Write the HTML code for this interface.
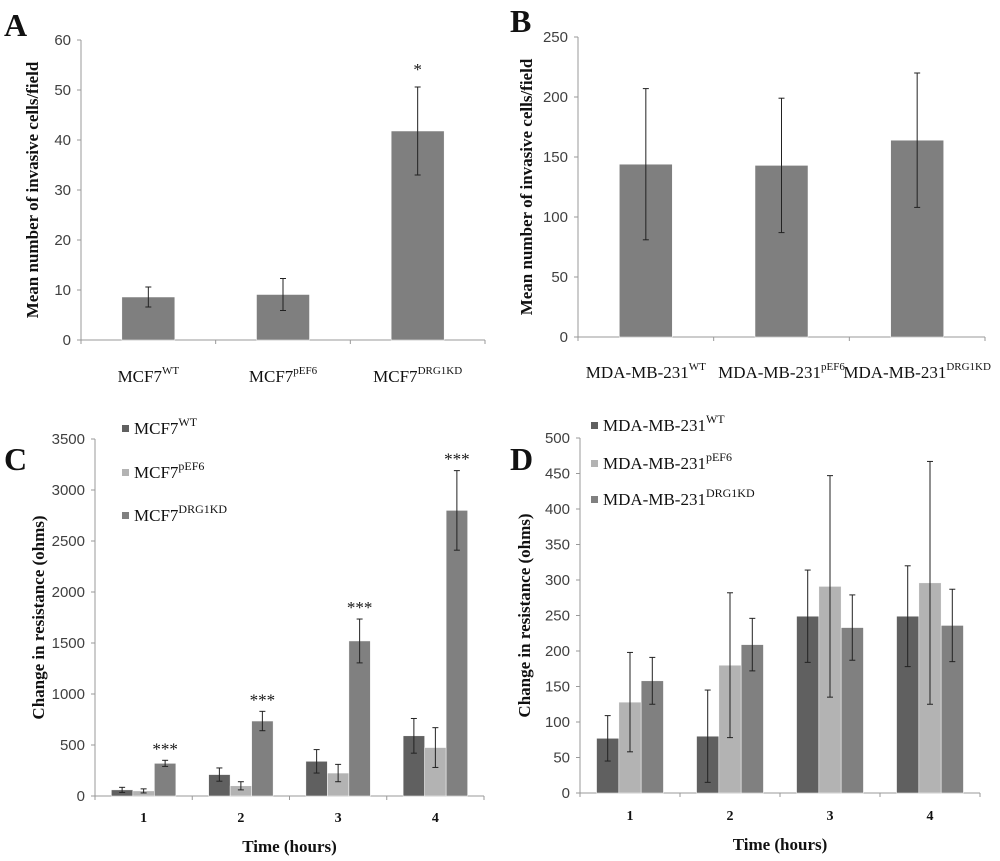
<!DOCTYPE html>
<html><head><meta charset="utf-8"><style>
body{margin:0;background:#fff;}
svg{display:block;}
.tick{font-family:"Liberation Sans",sans-serif;font-size:15px;fill:#404040;}
.cat{font-family:"Liberation Serif",serif;font-size:17px;fill:#111;}
.bold{font-family:"Liberation Serif",serif;font-weight:bold;fill:#111;}
</style></head><body>
<svg id="fig" width="1000" height="861" viewBox="0 0 1000 861" xmlns="http://www.w3.org/2000/svg"></svg>
<script>
// Panel A data
const aCats = [["MCF7","WT"],["MCF7","pEF6"],["MCF7","DRG1KD"]];
const aVals = [8.6, 9.1, 41.8];
const aErr = [2.0, 3.2, 8.8];
const aTicks = [0,10,20,30,40,50,60];
// Panel B data
const bCats = [["MDA-MB-231","WT"],["MDA-MB-231","pEF6"],["MDA-MB-231","DRG1KD"]];
const bVals = [144, 143, 164];
const bErr = [63, 56, 56];
const bTicks = [0,50,100,150,200,250];
// Panel C data
const cCats = ["1","2","3","4"];
const cWT = [60, 210, 340, 590];
const cWTErr = [25, 65, 115, 170];
const cPEF = [50, 100, 225, 475];
const cPEFErr = [20, 40, 85, 195];
const cKD = [320, 735, 1520, 2800];
const cKDErr = [30, 95, 215, 390];
const cTicks = [0,500,1000,1500,2000,2500,3000,3500];
// Panel D data
const dCats = ["1","2","3","4"];
const dWT = [77, 80, 249, 249];
const dWTErr = [32, 65, 65, 71];
const dPEF = [128, 180, 291, 296];
const dPEFErr = [70, 102, 156, 171];
const dKD = [158, 209, 233, 236];
const dKDErr = [33, 37, 46, 51];
const dTicks = [0,50,100,150,200,250,300,350,400,450,500];

const NS="http://www.w3.org/2000/svg";
const svg=document.getElementById('fig');
function el(tag,attrs,parent){const e=document.createElementNS(NS,tag);for(const k in attrs)e.setAttribute(k,attrs[k]);(parent||svg).appendChild(e);return e;}

function txt(x,y,s,cls,extra,parent){const t=el('text',Object.assign({x:x,y:y,class:cls},extra||{}),parent);t.textContent=s;return t;}

function axes(g,P){
  const y=v=>P.y0-(v/P.max)*(P.y0-P.y1);
  el('line',{x1:P.x0,y1:P.y0,x2:P.x0,y2:P.y1,stroke:'#999','stroke-width':1},g);
  el('line',{x1:P.x0,y1:P.y0,x2:P.x2,y2:P.y0,stroke:'#999','stroke-width':1},g);
  P.ticks.forEach(v=>{
    el('line',{x1:P.x0-4,y1:y(v),x2:P.x0,y2:y(v),stroke:'#999'},g);
    const t=txt(P.x0-10,y(v)+5,String(v),'tick',{'text-anchor':'end'},g);
    
    
  });
  const n=P.n, w=(P.x2-P.x0)/n;
  for(let i=0;i<=n;i++){el('line',{x1:P.x0+i*w,y1:P.y0,x2:P.x0+i*w,y2:P.y0+4,stroke:'#999'},g);}
  const yt=txt(0,0,P.ytitle,'bold',{'font-size':'17px','text-anchor':'middle',transform:`translate(${P.ytx},${(P.y0+P.y1)/2}) rotate(-90)`},g);
  
  
  return {y,w};
}
function bar(g,x,bw,yf,v,e,fill,name){
  const r=el('rect',{x:x,y:yf(v),width:bw,height:yf(0)-yf(v),fill:fill,stroke:'#fff','stroke-width':0.5},g);
  
  
  const cx=x+bw/2;
  el('line',{x1:cx,y1:yf(v+e),x2:cx,y2:yf(v-e),stroke:'#222','stroke-width':1},g);
  el('line',{x1:cx-3,y1:yf(v+e),x2:cx+3,y2:yf(v+e),stroke:'#222'},g);
  el('line',{x1:cx-3,y1:yf(v-e),x2:cx+3,y2:yf(v-e),stroke:'#222'},g);
}
function letter(x,y,s){const t=txt(x,y,s,'bold',{'font-size':'32px'});}

function single(name,P,cats,vals,errs,stars){
  const g=el('g',{});
  const {y,w}=axes(g,P);
  cats.forEach((c,i)=>{
    const bw=53, x=P.x0+i*w+(w-bw)/2;
    bar(g,x,bw,y,vals[i],errs[i],'#7f7f7f','bar-'+c[1].toLowerCase());
    const t=txt(P.x0+i*w+w/2,P.labY,'','cat',{'text-anchor':'middle','font-size':P.catSize||'17px'},g);
    
    
    const a=document.createElementNS(NS,'tspan');a.textContent=c[0];t.appendChild(a);
    const b=document.createElementNS(NS,'tspan');b.setAttribute('dy','-8');b.setAttribute('font-size','11px');b.textContent=c[1];t.appendChild(b);
    if(stars[i])txt(x+bw/2,y(vals[i]+errs[i])-12,stars[i],'cat',{'text-anchor':'middle','font-size':'26px'},g);
  });
}
function grouped(name,P,cats,series,errs,stars,legend,base){
  const g=el('g',{});
  const {y,w}=axes(g,P);
  const cols=['#606060','#b3b3b3','#808080'], keys=['wt','pef6','drg1kd'];
  const bw=P.bw;
  cats.forEach((c,i)=>{
    const start=P.x0+i*w+(w-3*bw)/2;
    series.forEach((s,j)=>bar(g,start+j*bw,bw,y,s[i],errs[j][i],cols[j],'bar-'+keys[j]+'-'+c));
    if(stars){txt(start+2.5*bw,y(series[2][i]+errs[2][i])-6,'***','cat',{'text-anchor':'middle','font-size':'24px'},g);}
    const t=txt(P.x0+i*w+w/2,P.labY,c,'bold',{'text-anchor':'middle','font-size':'14px'},g);
    
    
  });
  const xt=txt((P.x0+P.x2)/2,P.labY+30,'Time (hours)','bold',{'text-anchor':'middle','font-size':'17px'},g);
  
  
  const sup=['WT','pEF6','DRG1KD'];
  legend.ys.forEach((ly,j)=>{
    const le=el('g',{},g);
    el('rect',{x:legend.x,y:ly-9,width:7,height:7,fill:cols[j]},le);
    const t=txt(legend.x+12,ly,'','cat',{'font-family':legend.sans?'Liberation Sans, sans-serif':'Liberation Serif, serif','font-size':legend.sans?'16px':'18px'},le);
    const a=document.createElementNS(NS,'tspan');a.textContent=base;t.appendChild(a);
    const b=document.createElementNS(NS,'tspan');b.setAttribute('dy','-8');b.setAttribute('font-size','12px');b.setAttribute('font-family','Liberation Serif, serif');b.textContent=sup[j];t.appendChild(b);
  });
}
letter(4,36,'A');letter(510,32,'B');letter(4,470,'C');letter(510,470,'D');
single('chart-a',{x0:81,x2:485,y0:340,y1:40,max:60,ticks:aTicks,n:3,labY:382,ytitle:'Mean number of invasive cells/field',ytx:38},aCats,aVals,aErr,['','','*']);
single('chart-b',{x0:578,x2:985,y0:337,y1:37,max:250,ticks:bTicks,n:3,labY:378,catSize:'15px',ytitle:'Mean number of invasive cells/field',ytx:532},bCats,bVals,bErr,['','','']);
grouped('chart-c',{x0:95,x2:484,y0:796,y1:439,max:3500,ticks:cTicks,n:4,bw:21.5,labY:822,ytitle:'Change in resistance (ohms)',ytx:44},cCats,[cWT,cPEF,cKD],[cWTErr,cPEFErr,cKDErr],true,{x:122,ys:[434,478,521]},'MCF7');
grouped('chart-d',{x0:580,x2:980,y0:793,y1:438,max:500,ticks:dTicks,n:4,bw:22.3,labY:820,ytitle:'Change in resistance (ohms)',ytx:530},dCats,[dWT,dPEF,dKD],[dWTErr,dPEFErr,dKDErr],false,{x:591,ys:[431,469,505],sans:true},'MDA-MB-231');
</script>
</body></html>
